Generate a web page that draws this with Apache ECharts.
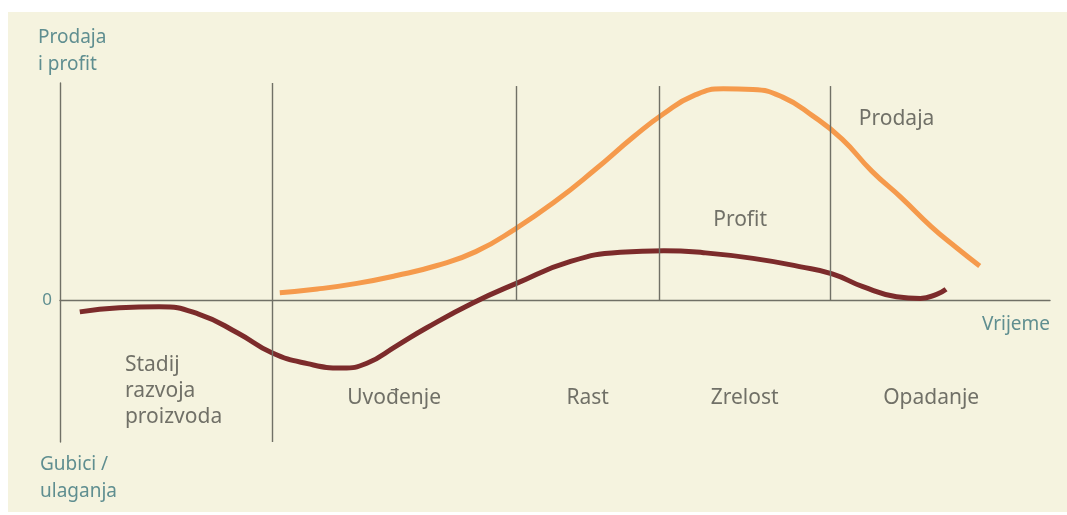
<!DOCTYPE html>
<html>
<head>
<meta charset="utf-8">
<script src="https://cdn.jsdelivr.net/npm/echarts@6/dist/echarts.min.js"></script>
<style>
  html, body { margin: 0; padding: 0; background: #fff; }
  #chart { width: 1067px; height: 515px; }
</style>
</head>
<body>
<div id="chart"></div>
<script>
// faze životnog ciklusa proizvoda (vrijeme 0..100)
const stageNames = ['Stadij\nrazvoja\nproizvoda', 'Uvođenje', 'Rast', 'Zrelost', 'Opadanje']
const stageEdges = [0, 21.4, 46.1, 60.5, 77.8, 98.2]

// prodaja: [vrijeme, iznos]
const salesData = [
  [22.2, 3.6], [26, 5.3], [30, 7.9], [34, 11.5], [38, 16.0],
  [42, 22.5], [46, 33.0], [50, 45.5], [54, 60.0], [58, 75.5],
  [61, 86.0], [64, 94.2], [67, 97.3], [70, 97.0], [73, 93.5],
  [76, 85.0], [79, 74.2], [82, 59.5], [85, 47.2], [88, 34.0],
  [90.5, 24.5], [92.9, 15.9]
]

// profit / gubici
const profitData = [
  [2.0, -5.2], [6, -3.3], [10, -2.8], [14, -6.2], [18, -15.0],
  [21.4, -24.0], [25, -29.0], [28.5, -31.0], [31, -28.8], [34, -20.8],
  [37, -12.6], [41.7, -1.1], [46.1, 7.9], [51.5, 17.9], [56.6, 22.2],
  [61, 22.9], [65, 22.0], [70, 19.4], [74.7, 15.6], [78, 12.3],
  [81.1, 6.4], [84.5, 1.8], [86.9, 1.0], [88.6, 3.0], [89.5, 5.2]
]

const curveLabels = [[84.5, 83.5, 'Prodaja'], [68.7, 37.0, 'Profit']]
const yMin = -65
const yMax = 100
const stageLabelY = -45

const axisColor = '#707066'
const textColor = '#4f4f48'
const tealColor = '#5f8e90'
const font = '"Noto Sans", sans-serif'

const chart = echarts.init(document.getElementById('chart'))

// vertikalne crte između faza
const dividers = stageEdges.slice(1, 5).map((x, i) => [
  { coord: [x, i === 0 ? yMin : 0] },
  { coord: [x, i === 0 ? yMax : 98.6] }
])

const stageLabelData = stageNames.map((name, i) => {
  const item = {
    value: [(stageEdges[i] + stageEdges[i + 1]) / 2, stageLabelY],
    name: name
  }
  if (i === 0) {
    item.label = { align: 'left', offset: [-41, -7] }
  }
  return item
})

chart.setOption({
  backgroundColor: '#ffffff',
  animation: false,
  graphic: [
    {
      type: 'rect', z: -10,
      shape: { x: 8, y: 12, width: 1059, height: 500 },
      style: { fill: '#f5f3df' }
    },
    {
      type: 'text', x: 38, y: 24,
      style: { text: 'Prodaja\ni profit', fill: tealColor, font: '19px ' + font, lineHeight: 27 }
    },
    {
      type: 'text', x: 40, y: 451,
      style: { text: 'Gubici /\nulaganja', fill: tealColor, font: '19px ' + font, lineHeight: 27 }
    },
    {
      type: 'text', x: 1050, y: 325,
      style: { text: 'Vrijeme', fill: tealColor, font: '19px ' + font, align: 'right', verticalAlign: 'middle' }
    }
  ],
  grid: {
    left: 60,
    right: 17,
    top: 83,
    bottom: 73
  },
  xAxis: {
    type: 'value',
    min: 0,
    max: 100,
    axisLine: { onZero: true, lineStyle: { color: axisColor, width: 1.4 } },
    axisTick: { show: false },
    axisLabel: { show: false },
    splitLine: { show: false }
  },
  yAxis: {
    type: 'value',
    min: yMin,
    max: yMax,
    interval: 65,
    axisLine: { show: true, lineStyle: { color: axisColor, width: 1.4 } },
    axisTick: { show: false },
    axisLabel: {
      margin: 8,
      color: tealColor,
      fontSize: 17,
      fontFamily: font,
      formatter: v => (v === 0 ? '0' : '')
    },
    splitLine: { show: false }
  },
  series: [
    {
      name: 'Prodaja',
      type: 'line',
      data: salesData,
      smooth: 0.5,
      showSymbol: false,
      lineStyle: { color: '#f59a4c', width: 5 },
      z: 3
    },
    {
      name: 'Profit',
      type: 'line',
      data: profitData,
      smooth: 0.5,
      showSymbol: false,
      lineStyle: { color: '#7c2b2b', width: 5 },
      z: 4,
      markLine: {
        silent: true,
        symbol: 'none',
        label: { show: false },
        lineStyle: { color: axisColor, width: 1.4, type: 'solid' },
        data: dividers
      }
    },
    {
      name: 'faze',
      type: 'scatter',
      data: stageLabelData,
      symbolSize: 0,
      silent: true,
      label: {
        show: true,
        position: 'inside',
        formatter: p => p.name,
        color: textColor,
        fontSize: 21,
        fontFamily: font,
        lineHeight: 26
      }
    },
    {
      name: 'oznake',
      type: 'scatter',
      data: curveLabels,
      symbolSize: 0,
      silent: true,
      label: {
        show: true,
        position: 'inside',
        formatter: p => p.data[2],
        color: textColor,
        fontSize: 21,
        fontFamily: font
      }
    }
  ]
})
</script>
</body>
</html>
